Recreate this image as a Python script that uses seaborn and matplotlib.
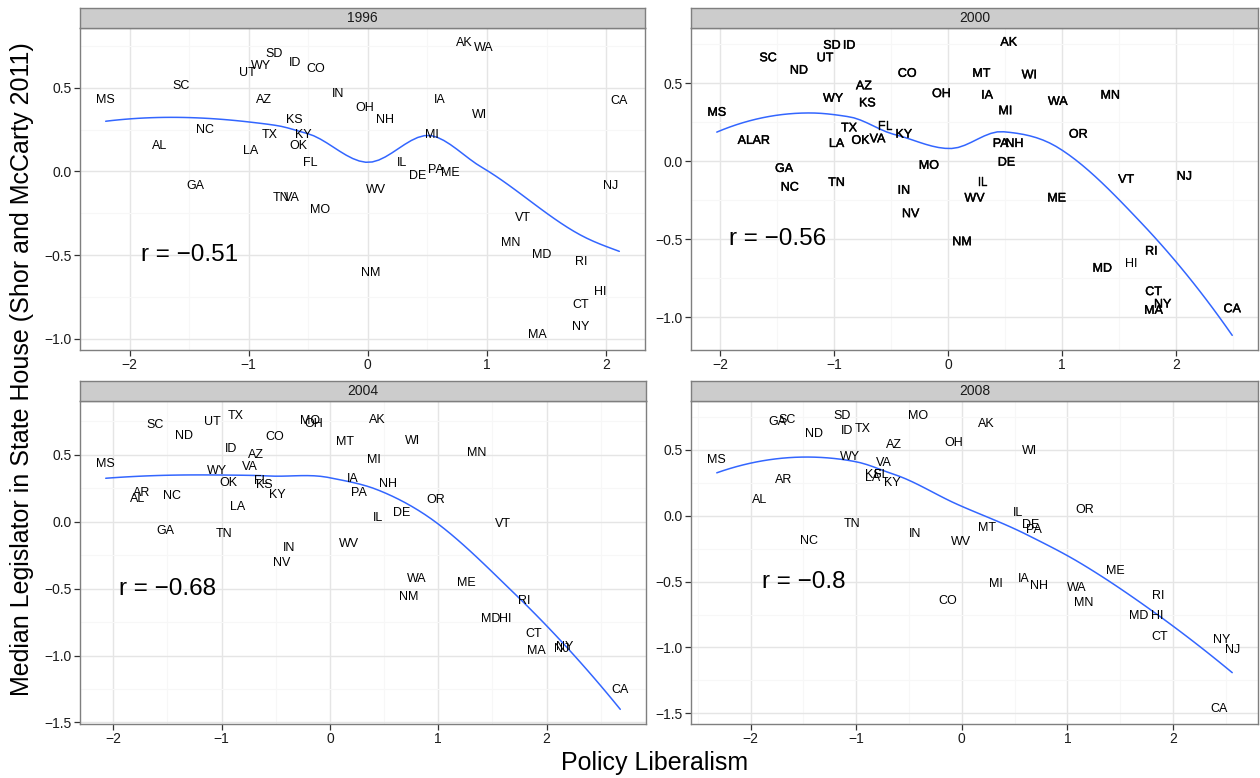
import numpy as np
import pandas as pd
import matplotlib
matplotlib.use('Agg')
import matplotlib.pyplot as plt
import matplotlib.patheffects as pe
import seaborn as sns

# state labels and positions, one set per year
states_1996 = ['MS', 'SC', 'UT', 'WY', 'SD', 'ID', 'CO', 'AZ', 'IN', 'OH', 'KS', 'NC', 'TX', 'KY', 'OK',
               'AL', 'LA', 'FL', 'GA', 'TN', 'VA', 'MO', 'WV', 'NM', 'AK', 'WA', 'IA', 'CA', 'NH', 'WI',
               'MI', 'IL', 'DE', 'PA', 'ME', 'NJ', 'VT', 'MN', 'MD', 'RI', 'HI', 'CT', 'NY', 'MA']
lib_1996 = [-2.20, -1.57, -1.01, -0.90, -0.79, -0.61, -0.44, -0.87, -0.25, -0.03, -0.62, -1.37, -0.82, -0.54, -0.58,
            -1.75, -0.98, -0.48, -1.45, -0.73, -0.64, -0.40, 0.07, 0.02, 0.81, 0.97, 0.60, 2.11, 0.14, 0.94,
            0.54, 0.29, 0.42, 0.57, 0.69, 2.04, 1.30, 1.20, 1.46, 1.79, 1.95, 1.79, 1.79, 1.42]
house_1996 = [0.43, 0.51, 0.59, 0.63, 0.70, 0.65, 0.61, 0.43, 0.46, 0.38, 0.31, 0.25, 0.22, 0.22, 0.15,
              0.15, 0.12, 0.05, -0.09, -0.16, -0.16, -0.23, -0.11, -0.61, 0.77, 0.74, 0.43, 0.42, 0.31, 0.34,
              0.22, 0.05, -0.03, 0.01, -0.01, -0.09, -0.28, -0.43, -0.50, -0.54, -0.72, -0.80, -0.93, -0.98]

states_2000 = ['MS', 'SC', 'ND', 'UT', 'SD', 'ID', 'WY', 'AZ', 'KS', 'CO', 'OH', 'AL', 'AR', 'TX', 'LA',
               'OK', 'VA', 'FL', 'KY', 'GA', 'NC', 'TN', 'MO', 'IN', 'NV', 'NM', 'AK', 'MT', 'WI', 'IA',
               'MI', 'WA', 'MN', 'OR', 'PA', 'NH', 'DE', 'IL', 'WV', 'ME', 'VT', 'NJ', 'RI', 'MD', 'HI',
               'CT', 'NY', 'MA', 'CA']
lib_2000 = [-2.03, -1.58, -1.31, -1.08, -1.02, -0.87, -1.01, -0.74, -0.71, -0.36, -0.06, -1.78, -1.64, -0.87, -0.98,
            -0.77, -0.62, -0.55, -0.39, -1.44, -1.39, -0.98, -0.17, -0.39, -0.33, 0.12, 0.53, 0.29, 0.71, 0.34,
            0.50, 0.96, 1.42, 1.14, 0.46, 0.58, 0.51, 0.30, 0.23, 0.95, 1.56, 2.07, 1.78, 1.35, 1.60,
            1.80, 1.88, 1.80, 2.49]
house_2000 = [0.31, 0.66, 0.58, 0.66, 0.74, 0.74, 0.40, 0.48, 0.37, 0.56, 0.43, 0.13, 0.13, 0.21, 0.11,
              0.13, 0.14, 0.22, 0.17, -0.05, -0.17, -0.14, -0.03, -0.19, -0.34, -0.52, 0.76, 0.56, 0.55, 0.42,
              0.32, 0.38, 0.42, 0.17, 0.11, 0.11, -0.01, -0.14, -0.24, -0.24, -0.12, -0.10, -0.58, -0.69, -0.66,
              -0.84, -0.92, -0.96, -0.95]

states_2004 = ['MS', 'SC', 'ND', 'UT', 'TX', 'MO', 'OH', 'CO', 'MT', 'ID', 'AZ', 'VA', 'WY', 'OK', 'FL',
               'KS', 'KY', 'AR', 'AL', 'NC', 'LA', 'IA', 'PA', 'GA', 'TN', 'IN', 'NV', 'WV', 'AK', 'WI',
               'MI', 'MN', 'NH', 'OR', 'IL', 'DE', 'VT', 'WA', 'NM', 'ME', 'RI', 'MD', 'HI', 'CT', 'MA',
               'NJ', 'NY', 'CA']
lib_2004 = [-2.07, -1.61, -1.35, -1.09, -0.87, -0.18, -0.15, -0.51, 0.14, -0.91, -0.68, -0.74, -1.04, -0.94, -0.63,
            -0.61, -0.49, -1.74, -1.78, -1.46, -0.85, 0.21, 0.27, -1.52, -0.98, -0.38, -0.45, 0.18, 0.44, 0.76,
            0.41, 1.35, 0.54, 0.98, 0.44, 0.66, 1.60, 0.80, 0.73, 1.26, 1.79, 1.48, 1.62, 1.88, 1.91,
            2.14, 2.17, 2.68]
house_2004 = [0.43, 0.72, 0.64, 0.74, 0.79, 0.75, 0.73, 0.63, 0.59, 0.54, 0.50, 0.41, 0.38, 0.29, 0.30,
              0.27, 0.20, 0.21, 0.17, 0.19, 0.11, 0.32, 0.21, -0.07, -0.09, -0.20, -0.31, -0.17, 0.76, 0.60,
              0.46, 0.51, 0.28, 0.16, 0.03, 0.06, -0.02, -0.43, -0.56, -0.46, -0.59, -0.73, -0.73, -0.84, -0.97,
              -0.95, -0.94, -1.26]

states_2008 = ['MS', 'GA', 'SC', 'ND', 'SD', 'ID', 'TX', 'MO', 'AZ', 'WY', 'VA', 'KS', 'LA', 'FL', 'KY',
               'AR', 'AL', 'TN', 'IN', 'NC', 'OH', 'WV', 'CO', 'AK', 'WI', 'IL', 'OR', 'MT', 'DE', 'PA',
               'ME', 'MI', 'IA', 'NH', 'WA', 'MN', 'RI', 'MD', 'HI', 'CT', 'NY', 'NJ', 'CA']
lib_2008 = [-2.32, -1.75, -1.65, -1.40, -1.13, -1.09, -0.94, -0.41, -0.64, -1.06, -0.74, -0.84, -0.84, -0.76, -0.66,
            -1.69, -1.91, -1.04, -0.44, -1.45, -0.08, -0.01, -0.13, 0.23, 0.64, 0.53, 1.16, 0.24, 0.65, 0.68,
            1.45, 0.32, 0.59, 0.73, 1.09, 1.15, 1.86, 1.67, 1.85, 1.87, 2.46, 2.56, 2.44]
house_2008 = [0.42, 0.71, 0.73, 0.62, 0.76, 0.64, 0.66, 0.76, 0.54, 0.45, 0.40, 0.31, 0.29, 0.31, 0.25,
              0.27, 0.12, -0.06, -0.14, -0.19, 0.55, -0.20, -0.65, 0.70, 0.49, 0.02, 0.04, -0.09, -0.07, -0.11,
              -0.42, -0.52, -0.48, -0.53, -0.55, -0.66, -0.61, -0.76, -0.76, -0.92, -0.94, -1.02, -1.47]

years = [1996, 2000, 2004, 2008]
r_labels = ['r = \u22120.51', 'r = \u22120.56', 'r = \u22120.68', 'r = \u22120.8']

df = pd.concat([
    pd.DataFrame({'year': 1996, 'state': states_1996, 'lib': lib_1996, 'house': house_1996}),
    pd.DataFrame({'year': 2000, 'state': states_2000, 'lib': lib_2000, 'house': house_2000}),
    pd.DataFrame({'year': 2004, 'state': states_2004, 'lib': lib_2004, 'house': house_2004}),
    pd.DataFrame({'year': 2008, 'state': states_2008, 'lib': lib_2008, 'house': house_2008}),
], ignore_index=True)


def local_fit(x, y, x0, q):
    # weighted local quadratic at x0, returns value and slope
    d = np.abs(x - x0)
    h = np.sort(d)[q - 1]
    w = np.clip(1 - (d / h) ** 3, 0, None) ** 3
    X = np.column_stack([np.ones(len(x)), x - x0, (x - x0) ** 2])
    sw = np.sqrt(w)
    beta = np.linalg.lstsq(X * sw[:, None], y * sw, rcond=None)[0]
    return beta[0], beta[1]


def loess(x, y, xs, span=0.75, cell=0.2):
    # mimic R's loess(surface = "interpolate"): fit at kd-tree vertices,
    # then cubic Hermite interpolation between them
    n = len(x)
    q = int(np.floor(n * span))
    fc = int(np.floor(n * span * cell))
    xsort = np.sort(x)
    rng = xsort[-1] - xsort[0]
    verts = {xsort[0] - 0.005 * rng, xsort[-1] + 0.005 * rng}

    def split(pts):
        if len(pts) <= fc:
            return
        m = (len(pts) - 1) // 2
        v = (pts[m] + pts[m + 1]) / 2
        verts.add(v)
        split(pts[:m + 1])
        split(pts[m + 1:])

    split(xsort)
    vx = np.array(sorted(verts))
    fits = np.array([local_fit(x, y, v, q) for v in vx])
    out = []
    for x0 in xs:
        i = min(max(np.searchsorted(vx, x0) - 1, 0), len(vx) - 2)
        x1, x2 = vx[i], vx[i + 1]
        hh = x2 - x1
        t = (x0 - x1) / hh
        h00 = 2 * t ** 3 - 3 * t ** 2 + 1
        h10 = t ** 3 - 2 * t ** 2 + t
        h01 = -2 * t ** 3 + 3 * t ** 2
        h11 = t ** 3 - t ** 2
        out.append(h00 * fits[i, 0] + h10 * hh * fits[i, 1] + h01 * fits[i + 1, 0] + h11 * hh * fits[i + 1, 1])
    return np.array(out)


def minus(v, fmt):
    return (fmt % v).replace('-', '\u2212')


sns.set_theme(style='whitegrid')
plt.rcParams['font.family'] = ['Liberation Sans', 'DejaVu Sans']

W, H = 1260, 778
fig = plt.figure(figsize=(W / 100, H / 100), dpi=100)
fig.patch.set_facecolor('white')

# panel boxes in pixels: left, top, right, bottom
boxes = {1996: (80, 28, 645, 350), 2000: (691, 28, 1258, 350),
         2004: (80, 401, 646, 724), 2008: (691, 401, 1258, 724)}

for year, rlab in zip(years, r_labels):
    l, t, r, b = boxes[year]
    ax = fig.add_axes([l / W, (H - b) / H, (r - l) / W, (b - t) / H])
    sub = df[df.year == year]
    x = sub.lib.to_numpy()
    y = sub.house.to_numpy()

    xs = np.linspace(x.min(), x.max(), 80)
    smooth = pd.DataFrame({'lib': xs, 'house': loess(x, y, xs)})
    sns.lineplot(data=smooth, x='lib', y='house', ax=ax, color='#3366FF', linewidth=1.1, zorder=3)

    for s, xi, yi in zip(sub.state, x, y):
        txt = ax.text(xi, yi, s, ha='center', va='center', fontsize=9, color='black', zorder=4)
        if year == 2000 and s != 'HI':
            txt.set_path_effects([pe.withStroke(linewidth=0.3, foreground='black')])

    ax.text(-1.5, -0.5, rlab, ha='center', va='center', fontsize=17.5, color='black', zorder=4)

    xt = [-2, -1, 0, 1, 2]
    yt = [-1.0, -0.5, 0.0, 0.5] if year < 2004 else [-1.5, -1.0, -0.5, 0.0, 0.5]
    ax.set_xticks(xt)
    ax.set_xticklabels([minus(v, '%d') for v in xt])
    ax.set_yticks(yt)
    ax.set_yticklabels([minus(v, '%.1f') for v in yt])
    ax.set_xticks([v + 0.5 for v in [-3] + xt], minor=True)
    ax.set_yticks([v + 0.25 for v in [-1.75] + yt], minor=True)

    # ggplot-style 5% expansion of the data and curve range
    xr = x.max() - x.min()
    ylo = min(y.min(), smooth.house.min())
    yhi = max(y.max(), smooth.house.max())
    yr = yhi - ylo
    ax.set_xlim(x.min() - 0.05 * xr, x.max() + 0.05 * xr)
    ax.set_ylim(ylo - 0.05 * yr, yhi + 0.05 * yr)

    ax.grid(which='major', color='#E5E5E5', linewidth=1.0)
    ax.grid(which='minor', color='#F7F7F7', linewidth=0.8)
    ax.set_axisbelow(True)
    ax.set_facecolor('white')
    for sp in ax.spines.values():
        sp.set_color('#7F7F7F')
        sp.set_linewidth(1.0)
    ax.tick_params(axis='both', which='major', direction='out', length=4, width=0.9,
                   color='#333333', labelsize=10, labelcolor='#1A1A1A', pad=2, left=True, bottom=True)
    ax.tick_params(which='minor', length=0)
    ax.set_xlabel('')
    ax.set_ylabel('')

    # facet strip
    sax = fig.add_axes([l / W, (H - t) / H, (r - l) / W, 20 / H])
    sax.set_facecolor('#CCCCCC')
    sax.set_xticks([])
    sax.set_yticks([])
    sax.grid(False)
    for sp in sax.spines.values():
        sp.set_color('#7F7F7F')
        sp.set_linewidth(1.0)
    sax.text(0.5, 0.48, str(year), ha='center', va='center', fontsize=10, color='#1A1A1A',
             transform=sax.transAxes)

fig.text(22 / W, (H - 369) / H, 'Median Legislator in State House (Shor and McCarty 2011)',
         rotation=90, ha='center', va='center', fontsize=18, color='black')
fig.text(655 / W, (H - 763) / H, 'Policy Liberalism', ha='center', va='center',
         fontsize=18, color='black')

fig.savefig('out.png', dpi=100)
